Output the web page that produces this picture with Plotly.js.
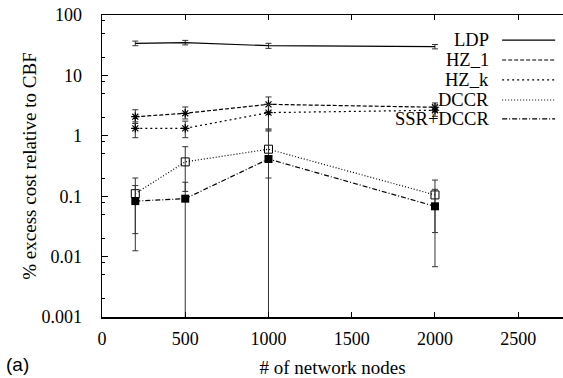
<!DOCTYPE html>
<html>
<head>
<meta charset="utf-8">
<script src="https://cdn.plot.ly/plotly-3.0.1.min.js"></script>
<style>html,body{margin:0;padding:0;background:#fff;}#chart{width:563px;height:378px;}</style>
</head>
<body>
<div id="chart"></div>
<script>
// x: number of network nodes
const nodes = [200, 500, 1000, 2000];

// series values (% excess cost relative to CBF)
const ldp      = [34, 35, 31, 30];
const ldpLo    = [31, 32, 28, 27.5];
const ldpHi    = [37, 38, 34, 32.5];

const hz1      = [2.07, 2.36, 3.32, 2.97];
const hz1Lo    = [1.6, 1.9, 2.5, 2.5];
const hz1Hi    = [2.7, 3.0, 4.4, 3.5];

const hzk      = [1.33, 1.33, 2.42, 2.65];
const hzkLo    = [0.93, 0.93, 1.2, 2.1];
const hzkHi    = [1.7, 1.75, 3.3, 3.2];

const dccr     = [0.11, 0.37, 0.60, 0.105];
const dccrLo   = [0.024, 0.12, 0.2, 0.025];
const dccrHi   = [0.2, 0.66, 1.25, 0.185];

const ssr      = [0.083, 0.091, 0.413, 0.068];
const ssrLo    = [0.0125, 0.00001, 0.00001, 0.0068];
const ssrHi    = [0.15, 0.17, 1.3, 0.13];

const seriesNames = ["LDP", "HZ_1", "HZ_k", "DCCR", "SSR+DCCR"];
const xTicks = [0, 500, 1000, 1500, 2000, 2500];
const yTicks = [0.001, 0.01, 0.1, 1, 10, 100];
const yTickText = ["0.001", "0.01", "0.1", "1", "10", "100"];

const SERIF = "'Liberation Serif', 'Times New Roman', 'DejaVu Serif', serif";
const SANS = "'Liberation Sans', Arial, sans-serif";

function err(v, lo, hi) {
  return {
    type: "data", symmetric: false,
    array: v.map((d, i) => hi[i] - d),
    arrayminus: v.map((d, i) => d - lo[i]),
    color: "#333", thickness: 1, width: 3
  };
}

const styles = [
  {dash: "solid", marker: {size: 1, symbol: "line-ew"}},
  {dash: "4px,2px", marker: {symbol: "asterisk-open", size: 7, line: {width: 1.2, color: "#000"}}},
  {dash: "2px,3px", marker: {symbol: "asterisk-open", size: 7, line: {width: 1.2, color: "#000"}}},
  {dash: "1px,2px", marker: {symbol: "square-open", size: 8, line: {width: 1, color: "#000"}}},
  {dash: "5px,2px,1px,2px", marker: {symbol: "square", size: 8, color: "#000"}}
];
const vals = [ldp, hz1, hzk, dccr, ssr];
const los = [ldpLo, hz1Lo, hzkLo, dccrLo, ssrLo];
const his = [ldpHi, hz1Hi, hzkHi, dccrHi, ssrHi];

const traces = vals.map((v, k) => ({
  x: nodes, y: v, name: seriesNames[k], type: "scatter", mode: "lines+markers",
  line: {color: "#000", width: 1.2, dash: styles[k].dash},
  marker: Object.assign({color: "#000"}, styles[k].marker),
  error_y: err(v, los[k], his[k]),
  showlegend: false, cliponaxis: true
}));

// custom right-aligned legend
const legY = [0.917, 0.851, 0.785, 0.7185, 0.656];
const annotations = seriesNames.map((n, k) => ({
  xref: "paper", yref: "paper", x: 0.842, y: legY[k], xanchor: "right", yanchor: "middle",
  text: n, showarrow: false, borderpad: 0, font: {family: SERIF, size: 18.5, color: "#000"}
}));
annotations.push({
  xref: "paper", yref: "paper", x: -0.212, y: -0.158, xanchor: "left", yanchor: "middle",
  text: "(a)", showarrow: false, font: {family: SANS, size: 19, color: "#000"}
});
const shapes = seriesNames.map((n, k) => ({
  type: "line", xref: "paper", yref: "paper", x0: 0.868, x1: 0.983, y0: legY[k], y1: legY[k],
  line: {color: "#000", width: 1.2, dash: styles[k].dash}
}));

const minorVals = [];
[0.001, 0.01, 0.1, 1, 10].forEach(d => [2, 5, 8].forEach(m => minorVals.push(d * m)));

const layout = {
  width: 563, height: 378,
  margin: {l: 102, r: 0, t: 15, b: 61},
  paper_bgcolor: "#fff", plot_bgcolor: "#fff",
  font: {family: SERIF, size: 18, color: "#000"},
  xaxis: {
    range: [0, 2769], tickvals: xTicks, ticktext: xTicks.map(String),
    ticks: "inside", ticklen: 5, tickcolor: "#000", showgrid: false, zeroline: false,
    showline: true, linecolor: "#000", linewidth: 1.5, mirror: "ticks",
    ticklabelstandoff: 5,
    tickfont: {family: SERIF, size: 18},
    title: {text: "# of network nodes", font: {family: SERIF, size: 19}, standoff: 18}
  },
  yaxis: {
    type: "log", range: [-3, 2], tickvals: yTicks, ticktext: yTickText,
    ticklabelstandoff: 15,
    ticks: "inside", ticklen: 6, tickcolor: "#000", showgrid: false, zeroline: false,
    showline: true, linecolor: "#000", linewidth: 1.5,
    tickfont: {family: SERIF, size: 18},
    minor: {tickvals: minorVals, ticks: "inside", ticklen: 3, tickcolor: "#000", showgrid: false},
    title: {text: "% excess cost relative to CBF", font: {family: SERIF, size: 19}, standoff: 0}
  },
  annotations: annotations,
  shapes: shapes
};

Plotly.newPlot("chart", traces, layout, {displayModeBar: false, staticPlot: true});
</script>
</body>
</html>
